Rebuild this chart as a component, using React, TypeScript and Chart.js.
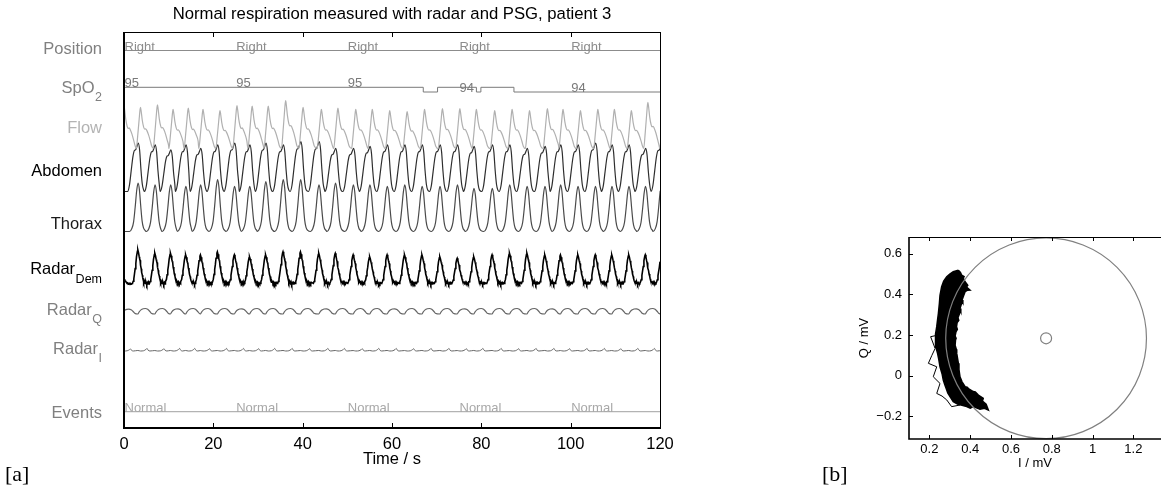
import React, { useEffect, useRef } from "react";
import { Chart, registerables } from "chart.js";

Chart.register(...registerables);

const SANS = "'Liberation Sans', Arial, Helvetica, sans-serif";
const SERIF = "'Liberation Serif', 'Times New Roman', serif";

// ---------------- data: panel [a] (time in s) ----------------
const timeTicks = [0, 20, 40, 60, 80, 100, 120];

// peak times of the flow signal, one per breath
const breathTimes = [
  0.0, 3.7, 7.5, 11.0, 14.4, 17.7, 21.5, 25.3, 28.7, 32.3, 36.2, 40.1, 44.2, 47.9, 51.9, 55.6, 59.5,
  63.4, 67.3, 71.3, 75.2, 78.9, 83.0, 86.9, 90.8, 94.8, 98.3, 102.2, 106.1, 109.8, 113.6, 117.3, 120.9,
];
// per-breath peak heights (arbitrary units)
const flowPeaks = [
  1.02, 0.98, 1.04, 0.93, 0.96, 0.93, 0.9, 1.02, 1.01, 1.01, 1.14, 0.98, 0.93, 0.96, 0.93, 0.93, 0.9,
  0.88, 0.93, 0.95, 0.95, 0.93, 0.9, 0.93, 0.9, 0.95, 0.93, 0.9, 0.93, 0.93, 0.9, 1.1, 1.0,
];
const abdomenPeaks = [
  0.0, 1.01, 0.97, 0.87, 0.97, 0.9, 0.97, 1.01, 0.97, 1.01, 0.97, 1.04, 1.04, 0.9, 0.9, 0.94, 0.97,
  0.97, 0.97, 0.97, 0.97, 0.94, 0.97, 0.97, 0.9, 0.94, 0.97, 0.97, 1.01, 0.97, 0.97, 0.9, 1.0,
];
const thoraxPeaks = [
  0.0, 1.01, 0.97, 0.97, 0.94, 0.97, 1.08, 0.94, 0.94, 1.04, 1.08, 1.08, 0.97, 1.01, 0.97, 0.97, 0.94,
  0.97, 0.94, 0.94, 0.97, 0.9, 0.9, 0.97, 0.94, 0.94, 0.97, 0.94, 0.94, 0.94, 0.94, 0.94, 1.0,
];
const demPeaks = [
  0.3, 1.1, 0.99, 0.99, 0.94, 0.94, 1.04, 0.94, 0.88, 0.94, 1.04, 1.04, 0.99, 0.99, 0.94, 0.88, 0.94,
  0.94, 0.94, 0.88, 0.83, 0.88, 0.94, 0.99, 0.99, 0.94, 0.94, 0.94, 0.94, 0.94, 0.94, 0.94, 0.9,
];
const radarQAmps = [
  0.9, 1.0, 1.0, 0.95, 1.0, 1.0, 1.0, 0.95, 1.0, 1.0, 1.0, 1.0, 0.95, 1.0, 1.0, 1.0, 0.95,
  1.0, 1.0, 1.0, 0.95, 1.0, 1.0, 1.0, 1.0, 0.95, 1.0, 1.0, 1.0, 1.0, 0.95, 1.0, 1.0,
];
const radarIAmps = [
  0.8, 1.0, 0.9, 1.0, 1.0, 0.9, 1.0, 1.0, 0.9, 1.0, 1.0, 0.9, 1.0, 1.0, 0.9, 1.0, 1.0,
  0.9, 1.0, 1.0, 0.9, 1.0, 1.0, 0.9, 1.0, 1.0, 0.9, 1.0, 1.0, 0.9, 1.0, 1.0, 0.9,
];

// one-breath shapes [seconds from peak, fraction of peak]
const flowShape = [
  [-0.95, 0.0], [-0.6, 0.35], [-0.3, 0.72], [-0.1, 0.95], [0, 1.0], [0.15, 0.9], [0.4, 0.68],
  [0.7, 0.52], [0.95, 0.47], [1.15, 0.48], [1.4, 0.44], [1.8, 0.33], [2.2, 0.18], [2.5, 0.06],
];
const abdomenShape = [
  [-2.4, 0.0], [-2.0, 0.12], [-1.6, 0.42], [-1.2, 0.72], [-0.85, 0.85], [-0.6, 0.86], [-0.3, 0.93],
  [0, 1.0], [0.3, 0.85], [0.6, 0.45], [0.9, 0.15], [1.2, 0.03],
];
const thoraxShape = [
  [-1.9, 0.0], [-1.4, 0.06], [-1.0, 0.2], [-0.65, 0.5], [-0.3, 0.85], [0, 1.0], [0.3, 0.86],
  [0.6, 0.52], [0.9, 0.22], [1.2, 0.08], [1.6, 0.02],
];
const demShape = [
  [-1.2, 0.02], [-1.05, 0.08], [-0.9, 0.15], [-0.75, 0.3], [-0.6, 0.45], [-0.45, 0.6], [-0.3, 0.8],
  [-0.1, 0.96], [0, 1.0], [0.15, 0.92], [0.3, 0.8], [0.4, 0.74], [0.5, 0.7], [0.6, 0.55],
  [0.75, 0.45], [0.85, 0.34], [1.0, 0.26], [1.1, 0.18], [1.2, 0.12], [1.3, 0.06], [1.4, 0.11],
  [1.5, 0.08], [1.65, 0.02], [1.8, 0.07], [1.9, 0.03], [2.0, -0.02], [2.15, 0.04], [2.3, 0.0],
  [2.45, 0.05],
];
const radarQShape = [
  [0, 0.0], [0.3, 0.4], [0.7, 0.75], [1.2, 0.95], [1.7, 1.0], [2.2, 0.85], [2.7, 0.45], [3.0, 0.15],
];
const radarIShape = [
  [0, 0.2], [0.6, 0.0], [1.3, 0.1], [1.8, 0.6], [2.05, 1.0], [2.3, 0.3], [2.7, 0.0],
];

const spo2Times = [0, 67.0, 70.2, 78.9, 79.9, 87.3, 120];
const spo2Values = [95, 94, 95, 94, 95, 94, 94];

const annotTimes = [0, 25, 50, 75, 100];
const positionLabels = ["Right", "Right", "Right", "Right", "Right"];
const spo2Labels = ["95", "95", "95", "94", "94"];
const eventLabels = ["Normal", "Normal", "Normal", "Normal", "Normal"];

const trackNames = [
  { main: "Position", sub: "" },
  { main: "SpO", sub: "2" },
  { main: "Flow", sub: "" },
  { main: "Abdomen", sub: "" },
  { main: "Thorax", sub: "" },
  { main: "Radar", sub: "Dem" },
  { main: "Radar", sub: "Q" },
  { main: "Radar", sub: "I" },
  { main: "Events", sub: "" },
];

// ---------------- data: panel [b] (I/Q plane, mV) ----------------
const iqTicksI = [0.2, 0.4, 0.6, 0.8, 1.0, 1.2];
const iqTicksQ = [-0.2, 0, 0.2, 0.4, 0.6];
const blobI = [
  0.342, 0.352, 0.358, 0.37, 0.366, 0.375, 0.388, 0.382, 0.399, 0.385, 0.375, 0.368, 0.36, 0.364, 0.356,
  0.35, 0.354, 0.348, 0.34, 0.344, 0.336, 0.333, 0.337, 0.33, 0.326, 0.331, 0.328, 0.326, 0.332, 0.334,
  0.338, 0.342, 0.345, 0.35, 0.36, 0.375, 0.385, 0.395, 0.415, 0.425, 0.44, 0.464, 0.46, 0.478, 0.489,
  0.47, 0.448, 0.415, 0.4, 0.383, 0.36, 0.34, 0.317, 0.301, 0.29, 0.285, 0.276, 0.268, 0.262, 0.252,
  0.246, 0.24, 0.232, 0.228, 0.232, 0.236, 0.24, 0.244, 0.249, 0.252, 0.26, 0.27, 0.285, 0.3, 0.317,
  0.342,
];
const blobQ = [
  0.519, 0.508, 0.495, 0.488, 0.48, 0.462, 0.445, 0.436, 0.421, 0.42, 0.413, 0.395, 0.372, 0.362, 0.35,
  0.33, 0.318, 0.306, 0.285, 0.272, 0.262, 0.241, 0.228, 0.215, 0.195, 0.184, 0.175, 0.15, 0.13, 0.11,
  0.085, 0.061, 0.03, -0.005, -0.03, -0.054, -0.056, -0.066, -0.078, -0.08, -0.095, -0.111, -0.125,
  -0.14, -0.169, -0.16, -0.165, -0.152, -0.16, -0.152, -0.145, -0.14, -0.128, -0.103, -0.085, -0.07,
  -0.045, -0.021, 0.01, 0.044, 0.08, 0.11, 0.14, 0.175, 0.205, 0.241, 0.275, 0.306, 0.356, 0.395,
  0.438, 0.465, 0.487, 0.5, 0.512, 0.519,
];
const tailI = [0.244, 0.206, 0.228, 0.212, 0.195, 0.236, 0.219, 0.252, 0.236, 0.262, 0.285, 0.309, 0.35];
const tailQ = [0.2, 0.192, 0.134, 0.1, 0.061, 0.044, -0.005, -0.038, -0.087, -0.1, -0.119, -0.152, -0.144];
const circleCenter = [0.772, 0.184];
const circleRadius = 0.492;

// ---------------- layout (pixels) ----------------
const A = { left: 124, right: 660, top: 32, bottom: 428 };
const TR = {
  position: { level: 50.5 },
  spo2: { base: 92, ref: 94, gain: 4.7 },
  flow: { base: 148.5, gain: 42 },
  abdomen: { base: 191.5, gain: 48 },
  thorax: { base: 231.5, gain: 48 },
  dem: { base: 284, gain: 31 },
  q: { base: 314, gain: 5.5 },
  i: { base: 351, gain: 2.6 },
  events: { level: 411.7 },
};
const NAME_LAYOUT = [
  { base: 54, sub: 0, color: "#808080" },
  { base: 93, sub: 7.5, color: "#808080" },
  { base: 133.3, sub: 0, color: "#b3b3b3" },
  { base: 176, sub: 0, color: "#000000" },
  { base: 229.3, sub: 0, color: "#1a1a1a" },
  { base: 274, sub: 9.3, color: "#000000" },
  { base: 315, sub: 8, color: "#808080" },
  { base: 354, sub: 7.7, color: "#808080" },
  { base: 418.3, sub: 0, color: "#808080" },
];

const imgToVal = (imgY: number) => A.bottom - imgY;
const spo2Img = (v: number) => TR.spo2.base - (v - TR.spo2.ref) * TR.spo2.gain;

function buildTrace(
  times: number[],
  amps: number[],
  shape: number[][],
  offset: number,
  track: { base: number; gain: number }
) {
  const pts: { x: number; y: number }[] = [];
  for (let i = 0; i < times.length; i++) {
    const t0 = times[i] + offset;
    const nextStart = i + 1 < times.length ? times[i + 1] + offset + shape[0][0] : Infinity;
    for (const [dt, v] of shape) {
      const t = t0 + dt;
      if (t >= nextStart) break;
      pts.push({ x: t, y: imgToVal(track.base - track.gain * amps[i] * v) });
    }
  }
  return pts;
}

const leftDecor = {
  id: "leftDecor",
  afterDraw(chart: any) {
    const { ctx, scales } = chart;
    const xs = scales.x;
    const ys = scales.y;
    const yPix = (imgY: number) => ys.getPixelForValue(imgToVal(imgY));
    const L = xs.getPixelForValue(0);
    const R = xs.getPixelForValue(120);
    const T = ys.getPixelForValue(ys.max);
    const B = ys.getPixelForValue(ys.min);
    ctx.save();
    ctx.font = `13px ${SANS}`;
    ctx.textAlign = "left";
    ctx.textBaseline = "alphabetic";
    annotTimes.forEach((t, i) => {
      const x = xs.getPixelForValue(t) + 0.5;
      ctx.fillStyle = "#8c8c8c";
      ctx.fillText(positionLabels[i], x, yPix(TR.position.level));
      ctx.fillStyle = "#7a7a7a";
      ctx.fillText(spo2Labels[i], x, yPix(spo2Img(Number(spo2Labels[i]))));
      ctx.fillStyle = "#a8a8a8";
      ctx.fillText(eventLabels[i], x, yPix(TR.events.level));
    });
    ctx.strokeStyle = "#000";
    ctx.lineWidth = 1;
    ctx.beginPath();
    ctx.moveTo(L, T + 0.5);
    ctx.lineTo(R + 0.5, T + 0.5);
    ctx.lineTo(R + 0.5, B);
    ctx.stroke();
    ctx.lineWidth = 2;
    ctx.beginPath();
    ctx.moveTo(L, T);
    ctx.lineTo(L, B);
    ctx.lineTo(R + 1, B);
    ctx.stroke();
    ctx.lineWidth = 1;
    ctx.beginPath();
    timeTicks.forEach((t) => {
      const x = Math.round(xs.getPixelForValue(t)) + 0.5;
      ctx.moveTo(x, B);
      ctx.lineTo(x, B - 5);
      ctx.moveTo(x, T);
      ctx.lineTo(x, T + 5);
    });
    ctx.stroke();
    ctx.fillStyle = "#000";
    ctx.font = `16.7px ${SANS}`;
    ctx.textAlign = "center";
    ctx.fillText("Normal respiration measured with radar and PSG, patient 3", (L + R) / 2, 19);
    const rightX = 102;
    trackNames.forEach((n, i) => {
      const lay = NAME_LAYOUT[i];
      ctx.fillStyle = lay.color;
      ctx.font = `12.5px ${SANS}`;
      const subW = n.sub ? ctx.measureText(n.sub).width : 0;
      if (n.sub) {
        ctx.textAlign = "left";
        ctx.fillText(n.sub, rightX - subW, lay.base + lay.sub);
      }
      ctx.font = `16.5px ${SANS}`;
      ctx.textAlign = "right";
      ctx.fillText(n.main, rightX - subW - (n.sub ? 0.5 : 0), lay.base);
    });
    ctx.font = `22px ${SERIF}`;
    ctx.textAlign = "left";
    ctx.fillStyle = "#000";
    ctx.fillText("[a]", 5, 481);
    ctx.restore();
  },
};

const rightDecor = {
  id: "rightDecor",
  afterDraw(chart: any) {
    const { ctx, scales, chartArea: a } = chart;
    const xs = scales.x;
    const ys = scales.y;
    ctx.save();
    ctx.strokeStyle = "#000";
    ctx.lineWidth = 1;
    ctx.beginPath();
    ctx.moveTo(a.left, a.top + 0.5);
    ctx.lineTo(a.right, a.top + 0.5);
    ctx.stroke();
    ctx.lineWidth = 1.6;
    ctx.beginPath();
    ctx.moveTo(a.left, a.top);
    ctx.lineTo(a.left, a.bottom);
    ctx.lineTo(a.right, a.bottom);
    ctx.stroke();
    ctx.lineWidth = 1;
    ctx.beginPath();
    iqTicksI.forEach((v) => {
      const x = Math.round(xs.getPixelForValue(v)) + 0.5;
      ctx.moveTo(x, a.bottom);
      ctx.lineTo(x, a.bottom - 4);
      ctx.moveTo(x, a.top);
      ctx.lineTo(x, a.top + 4);
    });
    iqTicksQ.forEach((v) => {
      const y = Math.round(ys.getPixelForValue(v)) + 0.5;
      ctx.moveTo(a.left, y);
      ctx.lineTo(a.left + 4, y);
    });
    ctx.stroke();
    ctx.font = `22px ${SERIF}`;
    ctx.fillStyle = "#000";
    ctx.textAlign = "left";
    ctx.fillText("[b]", 22, 481);
    ctx.restore();
  },
};

const fmt = (v: number) => {
  const r = Math.round(v * 10) / 10;
  return r < 0 ? "\u2212" + String(-r) : String(r);
};

export default function App() {
  const leftRef = useRef<HTMLCanvasElement>(null);
  const rightRef = useRef<HTMLCanvasElement>(null);

  useEffect(() => {
    const lc = leftRef.current;
    const rc = rightRef.current;
    if (!lc || !rc) return;

    const flow = buildTrace(breathTimes, flowPeaks, flowShape, 0, TR.flow);
    const abdomen = buildTrace(breathTimes, abdomenPeaks, abdomenShape, -0.5, TR.abdomen);
    const thorax = buildTrace(breathTimes, thoraxPeaks, thoraxShape, -0.55, TR.thorax);
    const dem = buildTrace(breathTimes, demPeaks, demShape, -0.6, TR.dem);
    const q = buildTrace(breathTimes, radarQAmps, radarQShape, -0.6, TR.q);
    const iSig = buildTrace(breathTimes, radarIAmps, radarIShape, -0.6, TR.i);
    const spo2 = spo2Times.map((t, k) => ({ x: t, y: imgToVal(spo2Img(spo2Values[k])) }));
    const posLine = [0, 120].map((t) => ({ x: t, y: imgToVal(TR.position.level) }));
    const evLine = [0, 120].map((t) => ({ x: t, y: imgToVal(TR.events.level) }));

    const smooth = { cubicInterpolationMode: "monotone" as const, tension: 0.4 };
    const left = new Chart(lc, {
      type: "line",
      data: {
        datasets: [
          { data: posLine, borderColor: "#8c8c8c", borderWidth: 1 },
          { data: spo2, borderColor: "#7a7a7a", borderWidth: 1, stepped: true },
          { data: flow, borderColor: "#b0b0b0", borderWidth: 1.2, ...smooth },
          { data: abdomen, borderColor: "#2e2e2e", borderWidth: 1.2, ...smooth },
          { data: thorax, borderColor: "#4a4a4a", borderWidth: 1.2, ...smooth },
          { data: dem, borderColor: "#000000", borderWidth: 1.6 },
          { data: q, borderColor: "#666666", borderWidth: 1.2, ...smooth },
          { data: iSig, borderColor: "#666666", borderWidth: 1, ...smooth },
          { data: evLine, borderColor: "#b3b3b3", borderWidth: 1.2 },
        ] as any,
      },
      options: {
        animation: false,
        responsive: false,
        events: [],
        layout: { autoPadding: false, padding: { left: A.left, right: 700 - A.right, top: A.top, bottom: 0 } },
        elements: { point: { radius: 0 } },
        plugins: { legend: { display: false }, tooltip: { enabled: false } },
        scales: {
          x: {
            type: "linear",
            min: 0,
            max: 120,
            afterBuildTicks: (s: any) => {
              s.ticks = timeTicks.map((v) => ({ value: v }));
            },
            afterFit: (s: any) => {
              s.height = 489 - A.bottom;
            },
            grid: { display: false, drawTicks: false },
            border: { display: false },
            ticks: {
              font: { family: SANS, size: 16.5 },
              color: "#000",
              padding: 7,
              maxRotation: 0,
              autoSkip: false,
              callback: (v: any) => String(v),
            },
            title: {
              display: true,
              text: "Time / s",
              font: { family: SANS, size: 16.5 },
              color: "#000",
              padding: { top: 0, bottom: 20 },
            },
          },
          y: { type: "linear", min: 0, max: A.bottom - A.top, display: false },
        },
      } as any,
      plugins: [leftDecor],
    });

    const circleRadiusPx = (ctx: any) => {
      const s = ctx.chart.scales.x;
      return Math.abs(s.getPixelForValue(circleCenter[0] + circleRadius) - s.getPixelForValue(circleCenter[0]));
    };
    const right = new Chart(rc, {
      type: "scatter",
      data: {
        datasets: [
          {
            data: [{ x: circleCenter[0], y: circleCenter[1] }],
            pointRadius: circleRadiusPx,
            pointBorderColor: "#808080",
            pointBackgroundColor: "rgba(0,0,0,0)",
            pointBorderWidth: 1.2,
            clip: false,
          },
          {
            data: [{ x: circleCenter[0], y: circleCenter[1] }],
            pointRadius: 5.5,
            pointBorderColor: "#808080",
            pointBackgroundColor: "rgba(0,0,0,0)",
            pointBorderWidth: 1.2,
          },
          {
            data: tailI.map((v, k) => ({ x: v, y: tailQ[k] })),
            showLine: true,
            borderColor: "#000",
            borderWidth: 1,
            pointRadius: 0,
          },
          {
            data: blobI.map((v, k) => ({ x: v, y: blobQ[k] })),
            showLine: true,
            borderColor: "#000",
            backgroundColor: "#000",
            borderWidth: 1.5,
            fill: "shape",
            pointRadius: 0,
          },
        ] as any,
      },
      options: {
        animation: false,
        responsive: false,
        events: [],
        layout: { autoPadding: false, padding: { left: 0, right: 0, top: 237, bottom: 0 } },
        plugins: { legend: { display: false }, tooltip: { enabled: false } },
        scales: {
          x: {
            type: "linear",
            min: 0.1,
            max: 0.1 + 252 / 204,
            afterBuildTicks: (s: any) => {
              s.ticks = iqTicksI.map((v) => ({ value: v }));
            },
            afterFit: (s: any) => {
              s.height = 50;
              s.paddingLeft = 0;
              s.paddingRight = 0;
            },
            grid: { display: false, drawTicks: false },
            border: { display: false },
            ticks: {
              font: { family: SANS, size: 13 },
              color: "#000",
              padding: 3,
              maxRotation: 0,
              autoSkip: false,
              callback: (v: any) => fmt(Number(v)),
            },
            title: {
              display: true,
              text: "I / mV",
              font: { family: SANS, size: 13 },
              color: "#000",
              padding: { top: 0, bottom: 18 },
            },
          },
          y: {
            type: "linear",
            min: -0.311,
            max: 0.682,
            afterBuildTicks: (s: any) => {
              s.ticks = iqTicksQ.map((v) => ({ value: v }));
            },
            afterFit: (s: any) => {
              s.width = 109;
              s.paddingTop = 0;
              s.paddingBottom = 0;
            },
            grid: { display: false, drawTicks: false },
            border: { display: false },
            ticks: {
              font: { family: SANS, size: 13 },
              color: "#000",
              padding: 7,
              autoSkip: false,
              callback: (v: any) => fmt(Number(v)),
            },
            title: {
              display: true,
              text: "Q / mV",
              font: { family: SANS, size: 13 },
              color: "#000",
              padding: { top: 57, bottom: 0 },
            },
          },
        },
      } as any,
      plugins: [rightDecor],
    });

    return () => {
      left.destroy();
      right.destroy();
    };
  }, []);

  return (
    <div style={{ position: "absolute", left: 0, top: 0, width: 1161, height: 489, background: "#fff" }}>
      <canvas
        ref={leftRef}
        width={700}
        height={489}
        style={{ position: "absolute", left: 0, top: 0, width: 700, height: 489 }}
      />
      <canvas
        ref={rightRef}
        width={361}
        height={489}
        style={{ position: "absolute", left: 800, top: 0, width: 361, height: 489 }}
      />
    </div>
  );
}
